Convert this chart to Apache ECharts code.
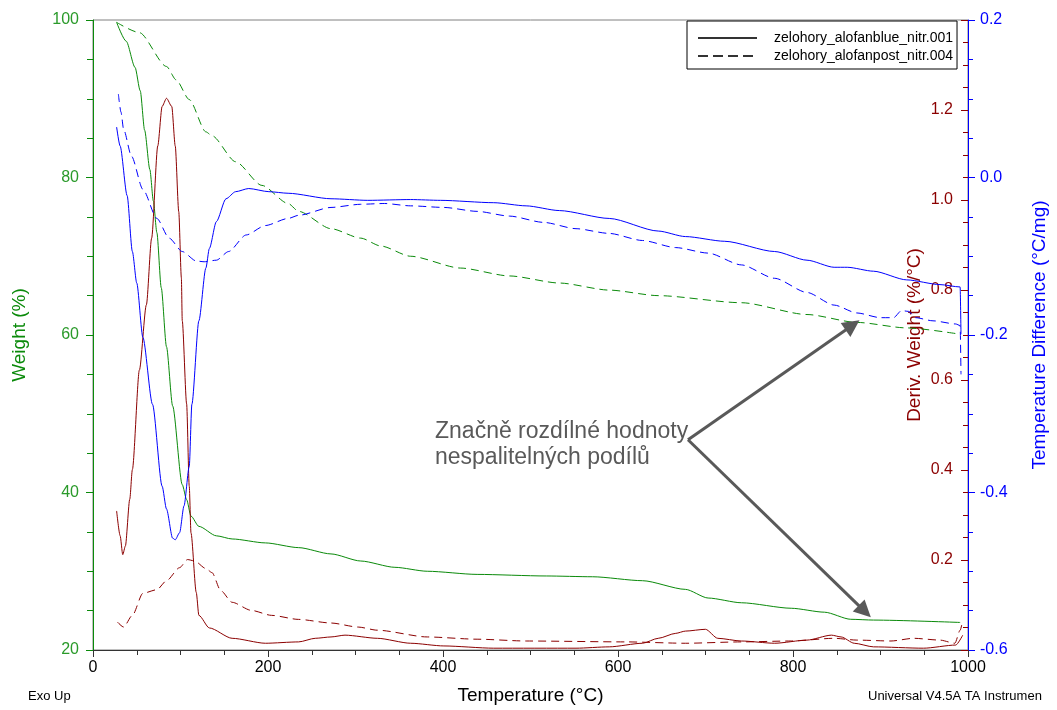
<!DOCTYPE html>
<html>
<head>
<meta charset="utf-8">
<script src="https://cdn.jsdelivr.net/npm/echarts@6/dist/echarts.min.js"></script>
<style>
html, body { margin: 0; padding: 0; background: #fff; }
#chart { width: 1057px; height: 710px; }
</style>
</head>
<body>
<div id="chart"></div>
<script>
// TGA / DTA curves
const weightSolidT = [27, 38, 48, 54, 59, 65, 69, 73, 78, 84, 91, 102, 107, 112, 121, 141, 159, 197, 235, 272, 306, 345, 382, 439, 518, 571, 628, 677, 703, 741, 798, 836, 866, 892, 991];
const weightSolid  = [99.7, 97.3, 94, 91, 86, 81, 77, 73, 66, 58.5, 51, 41, 39.1, 37, 35.7, 34.5, 34.1, 33.6, 33, 32.2, 31.3, 30.5, 30, 29.6, 29.4, 29.3, 28.8, 27.7, 26.6, 26, 25.3, 24.8, 23.9, 23.8, 23.5];

const weightDashT = [27, 53, 84, 95, 110, 129, 136, 163, 193, 223, 235, 272, 306, 329, 363, 420, 476, 533, 590, 646, 741, 816, 873, 930, 991];
const weightDash  = [99.7, 98.4, 94.1, 92.4, 89.9, 85.8, 85.3, 82, 79, 76.7, 75.7, 73.5, 72.3, 71.3, 70, 68.5, 67.5, 66.6, 65.7, 65, 64.1, 62.6, 61.6, 60.9, 60.1];

const derivSolidT = [27, 31, 34, 37, 42, 45, 53, 61, 67, 74, 79, 84, 90, 94, 98, 101, 102, 107, 110, 112, 118, 121, 133, 159, 197, 235, 254, 272, 288, 325, 363, 401, 458, 552, 590, 628, 646, 666, 677, 700, 714, 741, 779, 816, 844, 855, 870, 892, 949, 986, 994];
const derivSolid  = [0.309, 0.254, 0.212, 0.231, 0.335, 0.401, 0.622, 0.767, 0.915, 1.12, 1.208, 1.226, 1.208, 1.12, 0.974, 0.827, 0.732, 0.547, 0.364, 0.26, 0.128, 0.077, 0.049, 0.026, 0.015, 0.018, 0.026, 0.029, 0.033, 0.026, 0.015, 0.009, 0.004, 0.004, 0.007, 0.015, 0.026, 0.037, 0.042, 0.046, 0.026, 0.02, 0.015, 0.022, 0.033, 0.029, 0.015, 0.007, 0.004, 0.011, 0.033];

const derivDashT = [28, 35, 45, 57, 73, 84, 99, 108, 116, 129, 136, 146, 159, 181, 204, 235, 272, 303, 325, 382, 439, 495, 609, 677, 741, 798, 847, 873, 912, 938, 968, 985, 991, 994];
const derivDash  = [0.062, 0.051, 0.077, 0.126, 0.134, 0.154, 0.183, 0.201, 0.198, 0.181, 0.172, 0.132, 0.106, 0.088, 0.077, 0.068, 0.06, 0.051, 0.044, 0.029, 0.024, 0.02, 0.018, 0.015, 0.018, 0.02, 0.026, 0.022, 0.02, 0.026, 0.022, 0.015, 0.044, 0.066];

const tdSolidT = [27, 31, 39, 45, 50, 57, 68, 79, 84, 91, 94, 99, 104, 110, 113, 121, 129, 133, 141, 152, 163, 178, 201, 223, 272, 314, 363, 397, 458, 495, 533, 590, 646, 677, 722, 779, 816, 847, 862, 892, 930, 968, 991, 992];
const tdSolid  = [0.064, 0.04, -0.023, -0.094, -0.134, -0.203, -0.288, -0.392, -0.421, -0.458, -0.46, -0.451, -0.417, -0.367, -0.288, -0.182, -0.115, -0.09, -0.056, -0.027, -0.018, -0.014, -0.018, -0.02, -0.027, -0.029, -0.028, -0.029, -0.032, -0.036, -0.042, -0.052, -0.068, -0.075, -0.081, -0.094, -0.105, -0.114, -0.114, -0.119, -0.13, -0.136, -0.139, -0.199];

const tdDashT = [29, 32, 35, 44, 57, 73, 87, 102, 118, 127, 141, 155, 175, 197, 223, 235, 272, 306, 333, 363, 401, 439, 476, 515, 552, 590, 628, 666, 703, 741, 779, 816, 847, 873, 900, 915, 924, 932, 940, 960, 986, 991, 992];
const tdDash  = [0.106, 0.083, 0.061, 0.027, -0.015, -0.052, -0.077, -0.094, -0.106, -0.107, -0.105, -0.094, -0.073, -0.061, -0.052, -0.048, -0.038, -0.034, -0.033, -0.036, -0.038, -0.043, -0.049, -0.057, -0.065, -0.071, -0.08, -0.089, -0.096, -0.111, -0.128, -0.146, -0.162, -0.172, -0.178, -0.178, -0.169, -0.17, -0.178, -0.182, -0.186, -0.188, -0.25];

const runNames = ['zelohory_alofanblue_nitr.001', 'zelohory_alofanpost_nitr.004'];

// annotation arrows (temperature, weight)
const arrowFrom = [680, 46.7];
const arrowTips = [[868, 61.25], [882, 24.9]];

const font = '"Liberation Sans", Arial, sans-serif';
const green = '#0a8a0a';
const red = '#8B0000';
const blue = '#0000FF';
const dash = [8, 5];

function pairs(t, v) {
  return t.map((x, i) => [x, v[i]]);
}

function curve(data, axis, color, dashed, extra) {
  return Object.assign({
    type: 'line',
    yAxisIndex: axis,
    data: data,
    symbol: 'none',
    smooth: 0.25,
    smoothMonotone: 'x',
    silent: true,
    lineStyle: { color: color, width: 1, type: dashed ? dash : 'solid' },
    itemStyle: { color: color }
  }, extra || {});
}

const chart = echarts.init(document.getElementById('chart'));

const option = {
  animation: false,
  backgroundColor: '#fff',
  textStyle: { fontFamily: font },
  grid: {
    left: 93, right: 82, top: 20, bottom: 55,
    show: true, borderColor: '#808080', borderWidth: 1
  },
  legend: {
    data: runNames,
    orient: 'vertical',
    left: 687, top: 21,
    padding: [10, 4, 6, 10],
    itemWidth: 59, itemHeight: 14, itemGap: 4,
    backgroundColor: '#fff',
    borderColor: '#000', borderWidth: 1, borderRadius: 0,
    selectedMode: false,
    itemStyle: { opacity: 0 },
    textStyle: { color: '#000', fontSize: 14, fontFamily: font, padding: [0, 0, 0, 12] }
  },
  xAxis: {
    type: 'value', min: 0, max: 1000, interval: 200,
    name: 'Temperature (°C)', nameLocation: 'middle', nameGap: 36,
    nameTextStyle: { color: '#000', fontSize: 19, fontFamily: font },
    axisLine: { lineStyle: { color: '#333' } },
    axisTick: { length: 7, lineStyle: { color: '#333' } },
    minorTick: { show: true, splitNumber: 4, length: 5, lineStyle: { color: '#333' } },
    axisLabel: { color: '#000', fontSize: 16, margin: 10, formatter: v => String(v) },
    splitLine: { show: false }
  },
  yAxis: [
    {
      type: 'value', position: 'left', min: 20, max: 100, interval: 20,
      name: 'Weight (%)', nameLocation: 'middle', nameRotate: 90, nameGap: 64,
      nameTextStyle: { color: green, fontSize: 19, fontFamily: font },
      axisLine: { show: true, lineStyle: { color: green } },
      axisTick: { show: true, length: 7, lineStyle: { color: green } },
      minorTick: { show: true, splitNumber: 4, length: 6, lineStyle: { color: green } },
      axisLabel: { color: '#2a9a2a', fontSize: 16, margin: 14 },
      splitLine: { show: false }
    },
    {
      type: 'value', position: 'right', min: 0, max: 1.4, interval: 0.2,
      name: 'Deriv. Weight (%/°C)', nameLocation: 'middle', nameRotate: 90, nameGap: -63,
      nameMoveOverlap: false,
      nameTextStyle: { color: red, fontSize: 19, fontFamily: font },
      axisLine: { show: false },
      axisTick: { show: true, inside: true, length: 7, lineStyle: { color: red } },
      minorTick: { show: true, splitNumber: 4, length: 5, lineStyle: { color: red } },
      axisLabel: {
        inside: true, margin: 15, color: red, fontSize: 16,
        formatter: v => (v < 0.01 || v > 1.39) ? '' : v.toFixed(1)
      },
      splitLine: { show: false }
    },
    {
      type: 'value', position: 'right', min: -0.6, max: 0.2, interval: 0.2,
      name: 'Temperature Difference (°C/mg)', nameLocation: 'middle', nameRotate: 90, nameGap: 62,
      nameMoveOverlap: false,
      nameTextStyle: { color: blue, fontSize: 19, fontFamily: font },
      axisLine: { show: true, lineStyle: { color: blue } },
      axisTick: { show: true, length: 7, lineStyle: { color: blue } },
      minorTick: { show: true, splitNumber: 4, length: 5, lineStyle: { color: blue } },
      axisLabel: {
        color: blue, fontSize: 16, margin: 12,
        formatter: v => Math.abs(v) < 1e-9 ? '0.0' : v.toFixed(1)
      },
      splitLine: { show: false }
    }
  ],
  series: [
    curve(pairs(weightSolidT, weightSolid), 0, green, false, {
      markLine: {
        silent: true,
        symbol: ['none', 'triangle'],
        symbolSize: 17,
        label: { show: false },
        lineStyle: { color: '#595959', width: 3, type: 'solid' },
        itemStyle: { color: '#595959' },
        emphasis: { disabled: true },
        data: arrowTips.map(tip => [{ coord: arrowFrom }, { coord: tip }])
      }
    }),
    curve(pairs(weightDashT, weightDash), 0, green, true),
    curve(pairs(derivSolidT, derivSolid), 1, red, false),
    curve(pairs(derivDashT, derivDash), 1, red, true),
    curve(pairs(tdSolidT, tdSolid), 2, blue, false),
    curve(pairs(tdDashT, tdDash), 2, blue, true),
    { name: runNames[0], type: 'line', data: [], symbol: 'none', itemStyle: { color: '#333' }, lineStyle: { color: '#333', width: 1, type: 'solid' } },
    { name: runNames[1], type: 'line', data: [], symbol: 'none', itemStyle: { color: '#333' }, lineStyle: { color: '#333', width: 1, type: [10, 5] } }
  ],
  graphic: [
    {
      type: 'text', left: 435, top: 419, silent: true,
      style: {
        text: 'Značně rozdílné hodnoty\nnespalitelných podílů',
        fill: '#595959', fontSize: 23, fontFamily: font, lineHeight: 26
      }
    },
    {
      type: 'text', left: 28, top: 690, silent: true,
      style: { text: 'Exo Up', fill: '#000', fontSize: 13, fontFamily: font }
    },
    {
      type: 'text', left: 868, top: 690, silent: true,
      style: { text: 'Universal V4.5A TA Instrumen', fill: '#000', fontSize: 13, fontFamily: font }
    }
  ]
};

chart.setOption(option);
</script>
</body>
</html>
